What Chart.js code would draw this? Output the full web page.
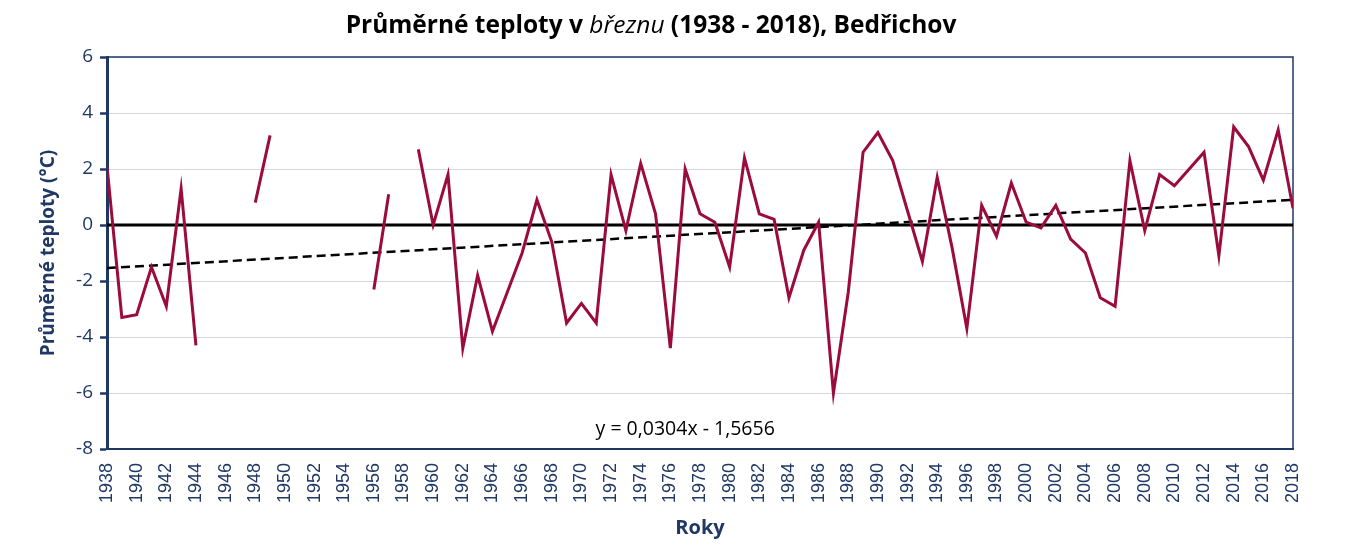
<!DOCTYPE html>
<html lang="cs">
<head>
<meta charset="utf-8">
<script src="https://cdn.jsdelivr.net/npm/chart.js@4/dist/chart.umd.min.js"></script>
<style>
  body { margin: 0; background: #fff; }
  #wrap { position: relative; width: 1345px; height: 550px; }
  #title {
    position: absolute; left: 0; top: 7px; width: 1302px; text-align: center;
    font: bold 24.5px "Open Sans", sans-serif; color: #000; white-space: nowrap;
  }
  #title i { font-weight: normal; }
</style>
</head>
<body>
<div id="wrap">
  <div id="title">Průměrné teploty v <i>březnu</i> (1938 - 2018), Bedřichov</div>
  <canvas id="chart" width="1345" height="550"></canvas>
</div>
<script>
// roky a průměrné březnové teploty (null = chybí měření)
const years = [1938, 1939, 1940, 1941, 1942, 1943, 1944, 1945, 1946, 1947,
  1948, 1949, 1950, 1951, 1952, 1953, 1954, 1955, 1956, 1957,
  1958, 1959, 1960, 1961, 1962, 1963, 1964, 1965, 1966, 1967,
  1968, 1969, 1970, 1971, 1972, 1973, 1974, 1975, 1976, 1977,
  1978, 1979, 1980, 1981, 1982, 1983, 1984, 1985, 1986, 1987,
  1988, 1989, 1990, 1991, 1992, 1993, 1994, 1995, 1996, 1997,
  1998, 1999, 2000, 2001, 2002, 2003, 2004, 2005, 2006, 2007,
  2008, 2009, 2010, 2011, 2012, 2013, 2014, 2015, 2016, 2017, 2018];

const temps = [2.1, -3.3, -3.2, -1.5, -2.9, 1.3, -4.3, null, null, null,
  0.8, 3.2, null, null, null, null, null, null, -2.3, 1.1,
  null, 2.7, 0.0, 1.8, -4.4, -1.8, -3.8, -2.4, -1.0, 0.9,
  -0.6, -3.5, -2.8, -3.5, 1.8, -0.2, 2.2, 0.4, -4.4, 2.0,
  0.4, 0.1, -1.5, 2.4, 0.4, 0.2, -2.6, -0.9, 0.1, -6.0,
  -2.4, 2.6, 3.3, 2.3, 0.5, -1.3, 1.7, -0.8, -3.7, 0.7,
  -0.4, 1.5, 0.1, -0.1, 0.7, -0.5, -1.0, -2.6, -2.9, 2.3,
  -0.2, 1.8, 1.4, 2.0, 2.6, -1.1, 3.5, 2.8, 1.6, 3.4, 0.6];

// lineární trend (krajní body), nulová osa
const trendYears = [1938, 2018];
const trendValues = [-1.54, 0.90];
const zeroYears = [1938, 2018];
const zeroValues = [0, 0];
const trendLabel = "y = 0,0304x - 1,5656";

const navy = "#1f3864";
const labelFont = "'Open Sans', sans-serif";

const toPoints = (xs, ys) => xs.map((x, i) => ({ x: x, y: ys[i] }));

// rámeček grafu a rovnice trendu
const framePlugin = {
  id: "frame",
  beforeDatasetsDraw(chart) {
    const { ctx, chartArea: a } = chart;
    ctx.save();
    ctx.strokeStyle = navy;
    ctx.lineWidth = 1.5;
    ctx.strokeRect(a.left, a.top, a.right - a.left, a.bottom - a.top);
    ctx.restore();
  },
  afterDatasetsDraw(chart) {
    const { ctx, scales } = chart;
    ctx.save();
    ctx.font = "19.5px " + labelFont;
    ctx.fillStyle = "#000";
    ctx.textAlign = "center";
    ctx.textBaseline = "middle";
    ctx.fillText(trendLabel, scales.x.getPixelForValue(1977), scales.y.getPixelForValue(-7.3));
    ctx.restore();
  },
};

new Chart(document.getElementById("chart"), {
  type: "line",
  data: {
    datasets: [
      {
        label: "Teplota",
        data: toPoints(years, temps),
        borderColor: "#9b0b3d",
        borderWidth: 3,
        pointRadius: 0,
        spanGaps: false,
        tension: 0,
      },
      {
        label: "Trend",
        data: toPoints(trendYears, trendValues),
        borderColor: "#000",
        borderWidth: 2.5,
        borderDash: [9, 5],
        pointRadius: 0,
      },
      {
        label: "Nula",
        data: toPoints(zeroYears, zeroValues),
        borderColor: "#000",
        borderWidth: 3,
        pointRadius: 0,
      },
    ],
  },
  options: {
    responsive: false,
    animation: false,
    layout: { padding: { top: 57, right: 52, left: 0, bottom: 0 } },
    plugins: {
      legend: { display: false },
      tooltip: { enabled: false },
    },
    scales: {
      x: {
        type: "linear",
        min: 1938,
        max: 2018,
        afterFit: (scale) => { scale.height = 101; },
        ticks: {
          stepSize: 2,
          autoSkip: false,
          minRotation: 90,
          maxRotation: 90,
          padding: 14,
          color: navy,
          font: { family: "'Liberation Sans', Arial, sans-serif", size: 18 },
          callback: (v) => String(v),
        },
        grid: { display: false, drawTicks: false },
        border: { color: navy, width: 2 },
        title: {
          display: true,
          text: "Roky",
          color: navy,
          font: { family: labelFont, size: 20, weight: "bold" },
          padding: { top: 4, bottom: 10 },
        },
      },
      y: {
        min: -8,
        max: 6,
        afterFit: (scale) => { scale.width = 107; },
        ticks: {
          stepSize: 2,
          padding: 7,
          color: navy,
          font: { family: labelFont, size: 19 },
        },
        grid: {
          color: "#d3d8e2",
          lineWidth: 1,
          tickColor: navy,
          tickWidth: 2.5,
          tickLength: 7,
        },
        border: { color: navy, width: 3 },
        title: {
          display: true,
          text: "Průměrné teploty (°C)",
          color: navy,
          font: { family: labelFont, size: 19, weight: "bold" },
          padding: { top: 37, bottom: 4 },
        },
      },
    },
  },
  plugins: [framePlugin],
});
</script>
</body>
</html>
